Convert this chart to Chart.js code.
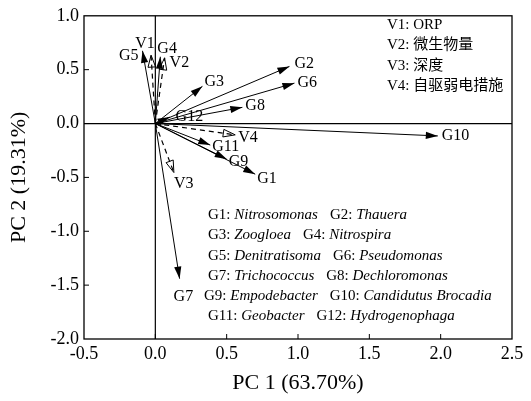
<!DOCTYPE html>
<html>
<head>
<meta charset="utf-8">
<script src="https://cdn.jsdelivr.net/npm/chart.js@4.4.0/dist/chart.umd.min.js"></script>
<style>
  html, body { margin: 0; padding: 0; background: #fff; }
</style>
</head>
<body>
<canvas id="chart-pca" width="531" height="401"></canvas>
<script>
/* PCA biplot — genera (G) vs. environmental variables (V) */

// ── Data ───────────────────────────────────────────────────────
const GENUS_IDS   = ['G1', 'G2', 'G3', 'G4', 'G5', 'G6', 'G7', 'G8', 'G9', 'G10', 'G11', 'G12'];
const GENUS_PC1   = [0.70, 0.94, 0.33, 0.035, -0.09, 0.975, 0.17, 0.61, 0.50, 1.98, 0.385, 0.10];
const GENUS_PC2   = [-0.47, 0.53, 0.345, 0.62, 0.675, 0.375, -1.44, 0.15, -0.33, -0.115, -0.20, 0.06];
const GENUS_NAMES = ['Nitrosomonas', 'Thauera', 'Zoogloea', 'Nitrospira', 'Denitratisoma', 'Pseudomonas',
                     'Trichococcus', 'Dechloromonas', 'Empodebacter', 'Candidutus Brocadia', 'Geobacter', 'Hydrogenophaga'];

const VAR_IDS   = ['V1', 'V2', 'V3', 'V4'];
const VAR_PC1   = [-0.03, 0.065, 0.13, 0.56];
const VAR_PC2   = [0.635, 0.61, -0.455, -0.105];
const VAR_NAMES = ['ORP', '微生物量', '深度', '自驱弱电措施'];

const X_TICKS = [-0.5, 0.0, 0.5, 1.0, 1.5, 2.0, 2.5];
const Y_TICKS = [-2.0, -1.5, -1.0, -0.5, 0.0, 0.5, 1.0];

// ── Style ──────────────────────────────────────────────────────
const SERIF = '"Liberation Serif", "Noto Sans CJK SC", serif';

// label offset from arrow tip: [dx, dy, align]
const LABEL_OFFSET = {
  G1: [2, 5, 'left'],  G2: [5, -3, 'left'],  G3: [2, -5, 'left'],  G4: [-3, -8, 'left'],
  G5: [-4, 5, 'right'], G6: [3, 0, 'left'],  G7: [-6, 18, 'left'], G8: [3, -2, 'left'],
  G9: [2, 3, 'left'],  G10: [4, 0, 'left'],  G11: [2, 2, 'left'],  G12: [6, 0, 'left'],
  V1: [-6, -11, 'center'], V2: [5, 5, 'left'], V3: [0, 11, 'left'], V4: [3, 3, 'left'],
};

// ── Datasets (one line per arrow, from the origin) ─────────────
const datasets = [];
GENUS_IDS.forEach((id, i) => {
  datasets.push({
    label: id,
    kind: 'genus',
    data: [{ x: 0, y: 0 }, { x: GENUS_PC1[i], y: GENUS_PC2[i] }],
    borderColor: '#000',
    borderWidth: 1,
    pointRadius: 0,
  });
});
VAR_IDS.forEach((id, i) => {
  datasets.push({
    label: id,
    kind: 'var',
    data: [{ x: 0, y: 0 }, { x: VAR_PC1[i], y: VAR_PC2[i] }],
    borderColor: '#000',
    borderWidth: 1.2,
    borderDash: [5, 4],
    pointRadius: 0,
  });
});

// ── Helpers ────────────────────────────────────────────────────
function drawHead(ctx, ox, oy, tx, ty, hollow) {
  const a = Math.atan2(ty - oy, tx - ox);
  const L = 12, W = hollow ? 3.8 : 3.6;
  const bx = tx - L * Math.cos(a), by = ty - L * Math.sin(a);
  ctx.beginPath();
  ctx.moveTo(tx, ty);
  ctx.lineTo(bx - W * Math.sin(a), by + W * Math.cos(a));
  ctx.lineTo(bx + W * Math.sin(a), by - W * Math.cos(a));
  ctx.closePath();
  if (hollow) {
    ctx.setLineDash([]);
    ctx.lineWidth = 1;
    ctx.strokeStyle = '#000';
    ctx.stroke();
  } else {
    ctx.fillStyle = '#000';
    ctx.fill();
  }
}

// draw "G1: " upright + italic genus, returns end x
function drawKey(ctx, x, y, id, name) {
  ctx.font = `15px ${SERIF}`;
  const head = id + ': ';
  ctx.fillText(head, x, y);
  x += ctx.measureText(head).width;
  ctx.font = `italic 15px ${SERIF}`;
  ctx.fillText(name, x, y);
  return x + ctx.measureText(name).width;
}

// ── Plugin: frame, zero lines, inward ticks, heads, labels, keys ─
const biplotPlugin = {
  id: 'biplot',
  beforeDatasetsDraw(chart) {
    const { ctx, chartArea: ca, scales: { x, y } } = chart;
    ctx.save();
    ctx.strokeStyle = '#000';
    ctx.lineWidth = 1.2;
    const x0 = x.getPixelForValue(0), y0 = y.getPixelForValue(0);
    ctx.beginPath();
    ctx.moveTo(x0, ca.top); ctx.lineTo(x0, ca.bottom);
    ctx.moveTo(ca.left, y0); ctx.lineTo(ca.right, y0);
    ctx.stroke();
    ctx.restore();
  },
  afterDatasetsDraw(chart) {
    const { ctx, chartArea: ca, scales: { x, y } } = chart;
    const ox = x.getPixelForValue(0), oy = y.getPixelForValue(0);
    ctx.save();

    // frame + inward ticks
    ctx.strokeStyle = '#000';
    ctx.lineWidth = 1.3;
    ctx.strokeRect(ca.left, ca.top, ca.right - ca.left, ca.bottom - ca.top);
    ctx.lineWidth = 1;
    ctx.beginPath();
    Y_TICKS.slice(1, -1).forEach(v => {
      const py = y.getPixelForValue(v);
      ctx.moveTo(ca.left, py); ctx.lineTo(ca.left + 5, py);
    });
    X_TICKS.slice(1, -1).forEach(v => {
      const px = x.getPixelForValue(v);
      ctx.moveTo(px, ca.bottom); ctx.lineTo(px, ca.bottom - 5);
    });
    ctx.stroke();

    // arrow heads + labels
    ctx.textBaseline = 'middle';
    chart.data.datasets.forEach(ds => {
      const p = ds.data[1];
      const tx = x.getPixelForValue(p.x), ty = y.getPixelForValue(p.y);
      drawHead(ctx, ox, oy, tx, ty, ds.kind === 'var');
      const [dx, dy, align] = LABEL_OFFSET[ds.label];
      ctx.font = `16px ${SERIF}`;
      ctx.fillStyle = '#000';
      ctx.textAlign = align;
      ctx.fillText(ds.label, tx + dx, ty + dy);
    });

    // variable key (top right)
    ctx.textAlign = 'left';
    ctx.font = `15px ${SERIF}`;
    VAR_IDS.forEach((id, i) => {
      ctx.fillText(`${id}: ${VAR_NAMES[i]}`, 387, 25 + i * 20.5);
    });

    // genus key (bottom), two entries per row
    for (let r = 0; r < GENUS_IDS.length / 2; r++) {
      const yy = 215 + r * 20.3;
      const x1 = r === 4 ? 204 : 208;
      const end = drawKey(ctx, x1, yy, GENUS_IDS[2 * r], GENUS_NAMES[2 * r]);
      drawKey(ctx, end + 12, yy, GENUS_IDS[2 * r + 1], GENUS_NAMES[2 * r + 1]);
    }
    ctx.restore();
  },
};

// ── Chart ──────────────────────────────────────────────────────
const tickFont = { family: SERIF, size: 18 };
const titleFont = { family: SERIF, size: 22 };

new Chart(document.getElementById('chart-pca'), {
  type: 'line',
  data: { datasets },
  plugins: [biplotPlugin],
  options: {
    responsive: false,
    animation: false,
    layout: { padding: { top: 13, right: 19, left: 0, bottom: 0 } },
    plugins: { legend: { display: false }, tooltip: { enabled: false } },
    scales: {
      x: {
        type: 'linear', min: -0.5, max: 2.5,
        afterBuildTicks: s => { s.ticks = X_TICKS.map(v => ({ value: v })); },
        afterFit: s => { s.height = 62; },
        grid: { display: false, drawTicks: false, tickLength: 0 },
        border: { display: false },
        ticks: { font: tickFont, color: '#000', padding: 4, maxRotation: 0, autoSkip: false,
                 callback: v => v.toFixed(1) },
        title: { display: true, text: 'PC 1 (63.70%)', font: titleFont, color: '#000',
                 padding: { top: 0, bottom: 5 } },
      },
      y: {
        type: 'linear', min: -2.0, max: 1.0,
        afterBuildTicks: s => { s.ticks = Y_TICKS.map(v => ({ value: v })); },
        afterFit: s => { s.width = 84; },
        grid: { display: false, drawTicks: false, tickLength: 0 },
        border: { display: false },
        ticks: { font: tickFont, color: '#000', padding: 5, autoSkip: false,
                 callback: v => v.toFixed(1) },
        title: { display: true, text: 'PC 2 (19.31%)', font: titleFont, color: '#000',
                 padding: { top: 6, bottom: 0 } },
      },
    },
  },
});
</script>
</body>
</html>
